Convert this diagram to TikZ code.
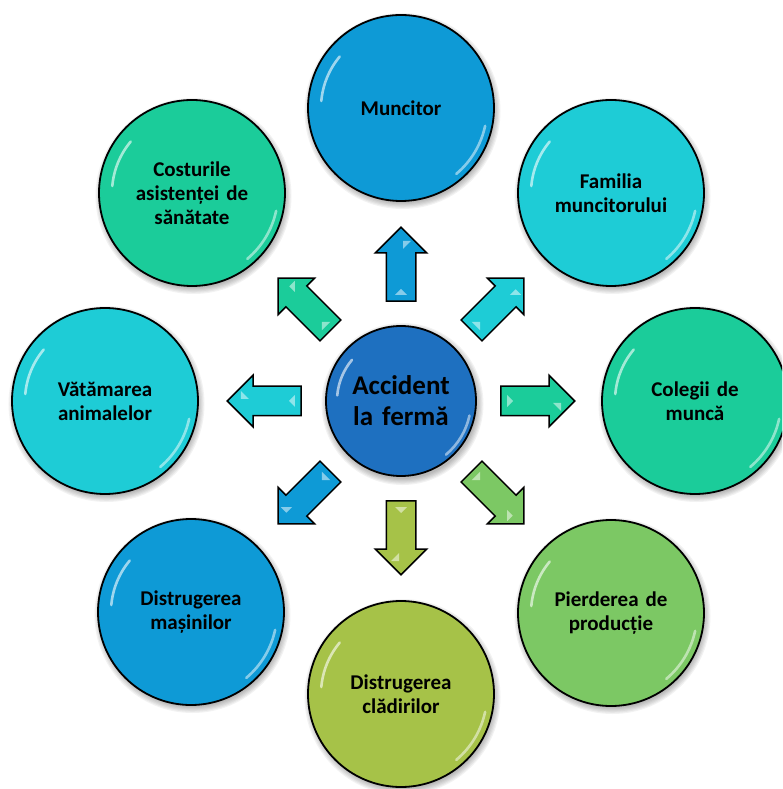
\documentclass[tikz,border=0pt]{standalone}
\usepackage{fontspec}
\setmainfont{Carlito}
\usetikzlibrary{shapes.arrows}
\definecolor{cBlue}{HTML}{0E9AD6}
\definecolor{cCyan}{HTML}{1ECCD6}
\definecolor{cTeal}{HTML}{1BCC9A}
\definecolor{cGreen}{HTML}{7CC864}
\definecolor{cOlive}{HTML}{A6C248}
\definecolor{cHub}{HTML}{1E70C0}
\begin{document}
\begin{tikzpicture}[x=1pt,y=1pt,
  bubble/.style={circle, minimum size=186pt, inner sep=0pt, draw=black, line width=1.8pt,
    align=center, text width=160pt, font=\bfseries\fontsize{21}{24}\selectfont},
  hub/.style={bubble, minimum size=150pt, text width=130pt, font=\bfseries\fontsize{27}{31}\selectfont},
  barrow/.style={single arrow, draw=black, line width=1.5pt, minimum height=74pt,
    inner xsep=0pt, inner ysep=14pt, single arrow head extend=11pt, single arrow tip angle=90},
  shine/.style={white, opacity=0.6, line width=2.6pt, line cap=round},
  shade/.style={black, opacity=0.05}]
\useasboundingbox (-401,-388) rectangle (381,401);
\clip (-401,-388) rectangle (381,401);
% outer bubbles
\foreach \px/\py/\c/\n/\t in {
  0/293/cBlue/bN/{Muncitor},
  210/208/cCyan/bNE/{Familia\\muncitorului},
  294/0/cTeal/bE/{Colegii de\\muncă},
  210/-212/cGreen/bSE/{Pierderea de\\producție},
  0/-293/cOlive/bS/{Distrugerea\\clădirilor},
  -210/-211/cBlue/bSW/{Distrugerea\\mașinilor},
  -296/0/cCyan/bW/{Vătămarea\\animalelor},
  -209/208/cTeal/bNW/{Costurile\\asistenței de\\sănătate}}{
  \begin{scope}[shift={(\px,\py)}]
    \foreach \s in {0,...,5}{\fill[shade] (1.5,-3) circle ({92+\s*1.2});}
  \end{scope}
  \node[bubble, fill=\c] (\n) at (\px,\py) {\t};
  \begin{scope}[shift={(\px,\py)}]
    \draw[shine] (140:80) arc (140:175:80);
    \draw[shine, opacity=0.5] (-50:86) arc (-50:-12:86);
  \end{scope}
}
% hub
\foreach \s in {0,...,5}{\fill[shade] (1.5,-3) circle ({75+\s*1.2});}
\node[hub, fill=cHub] (hub) at (0,0) {Accident\\la fermă};
\draw[shine] (140:64) arc (140:175:64);
\draw[shine, opacity=0.5] (-50:70) arc (-50:-12:70);
% block arrows
\foreach \a/\c/\n in {90/cBlue/aN, 45/cCyan/aNE, 0/cTeal/aE, -45/cGreen/aSE,
    -90/cOlive/aS, -135/cBlue/aSW, 180/cCyan/aW, 135/cTeal/aNW}{
  \node[barrow, fill=\c, rotate=\a, anchor=tail] (\n) at (\a:99) {};
  \begin{scope}[shift={(\a:136)}, rotate=\a]
    \fill[white, opacity=0.5] (-30,-6) -- (-24,0) -- (-30,6) -- cycle;
    \fill[white, opacity=0.5] (16,-2) -- (24,-2) -- (24,-10) -- cycle;
  \end{scope}
}
\end{tikzpicture}
\end{document}
